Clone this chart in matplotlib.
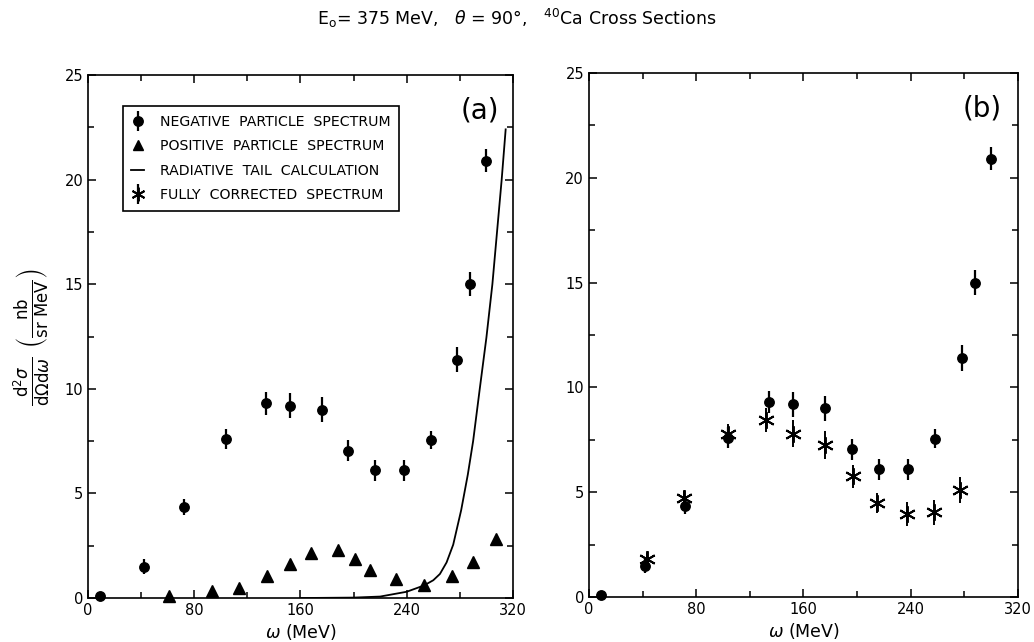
import matplotlib
matplotlib.use("Agg")
from matplotlib import pyplot as plt
from matplotlib.lines import Line2D
from matplotlib.ticker import MultipleLocator

# negative particle spectrum (circles)
neg_w = [9, 42, 72, 104, 134, 152, 176, 196, 216, 238, 258, 278, 288, 300]
neg_xs = [0.1, 1.5, 4.35, 7.6, 9.3, 9.2, 9.0, 7.05, 6.1, 6.1, 7.55, 11.4, 15.0, 20.9]
neg_err = [0.15, 0.35, 0.4, 0.5, 0.53, 0.6, 0.6, 0.5, 0.5, 0.5, 0.45, 0.6, 0.58, 0.55]

# positive particle spectrum (triangles)
pos_w = [61, 93, 114, 135, 152, 168, 188, 201, 212, 232, 253, 274, 290, 307]
pos_xs = [0.1, 0.35, 0.5, 1.05, 1.62, 2.13, 2.3, 1.85, 1.34, 0.92, 0.6, 1.07, 1.7, 2.8]

# radiative tail calculation
tail_w = [160, 200, 220, 240, 253, 260, 265, 270, 275, 281, 286, 290, 295, 300, 304.5, 308, 311.5, 314.5]
tail_xs = [0.0, 0.02, 0.07, 0.3, 0.6, 0.85, 1.15, 1.7, 2.55, 4.2, 5.9, 7.5, 10.0, 12.45, 15.0, 17.5, 20.0, 22.4]

# fully corrected spectrum (asterisks)
cor_w = [43, 71, 104, 132, 152, 176, 197, 215, 237, 257, 277]
cor_xs = [1.8, 4.7, 7.8, 8.45, 7.8, 7.25, 5.75, 4.5, 3.96, 4.05, 5.1]
cor_err = [0.3, 0.35, 0.45, 0.56, 0.64, 0.66, 0.56, 0.48, 0.58, 0.6, 0.62]

legend_labels = ["NEGATIVE  PARTICLE  SPECTRUM", "POSITIVE  PARTICLE  SPECTRUM",
                 "RADIATIVE  TAIL  CALCULATION", "FULLY  CORRECTED  SPECTRUM"]

star = (6, 2, 0)
circ_kw = dict(fmt="o", color="black", ms=6.8, elinewidth=1.6, capsize=0, clip_on=False, zorder=3)
star_kw = dict(fmt="none", ecolor="black", elinewidth=1.4, capsize=0, zorder=3)


def style_axes(ax):
    ax.set_xlim(0, 320)
    ax.set_ylim(0, 25)
    ax.xaxis.set_major_locator(MultipleLocator(80))
    ax.xaxis.set_minor_locator(MultipleLocator(40))
    ax.yaxis.set_major_locator(MultipleLocator(5))
    ax.yaxis.set_minor_locator(MultipleLocator(2.5))
    ax.tick_params(which="both", direction="in", top=True, right=True, labelsize=10.5)
    ax.tick_params(which="major", length=6, width=1.1)
    ax.tick_params(which="minor", length=4, width=1.1)
    for s in ax.spines.values():
        s.set_linewidth(1.2)
    ax.set_xlabel(r"$\omega$ (MeV)", fontsize=12.5, labelpad=3)


def main():
    fig = plt.figure(figsize=(10.34, 6.42), dpi=100)
    ax1 = fig.add_axes([0.0851, 0.0685, 0.411, 0.8147])
    ax2 = fig.add_axes([0.5696, 0.0701, 0.4149, 0.8162])

    # panel (a)
    ax1.errorbar(neg_w, neg_xs, yerr=neg_err, **circ_kw)
    ax1.plot(pos_w, pos_xs, "^", color="black", ms=8, clip_on=False, zorder=3)
    ax1.plot(tail_w, tail_xs, "-", color="black", lw=1.3)
    style_axes(ax1)
    ax1.set_ylabel(r"$\frac{\mathrm{d}^2\sigma}{\mathrm{d}\Omega \mathrm{d}\omega}\ "
                   r"\left(\frac{\mathrm{nb}}{\mathrm{sr\ MeV}}\right)$", fontsize=17)
    ax1.yaxis.set_label_coords(-0.085, 0.5)
    ax1.text(0.922, 0.933, "(a)", transform=ax1.transAxes, fontsize=20, ha="center", va="center")

    bar = dict(marker="|", color="black", lw=0, ms=15, mew=1.6)
    h_neg = (Line2D([], [], **bar), Line2D([], [], marker="o", color="black", ms=6.8, lw=0))
    h_pos = Line2D([], [], marker="^", color="black", ms=7.5, lw=0)
    h_tail = Line2D([], [], color="black", lw=1.3)
    h_cor = (Line2D([], [], **bar), Line2D([], [], marker=star, color="black", ms=10, mew=1.4, lw=0))
    leg = ax1.legend([h_neg, h_pos, h_tail, h_cor], legend_labels, loc="upper left",
                     bbox_to_anchor=(0.0816, 0.9407), borderaxespad=0, fontsize=10.2,
                     handlelength=0.9, handletextpad=1.1, labelspacing=0.75,
                     fancybox=False, edgecolor="black", framealpha=1,
                     borderpad=0.6)
    leg.get_frame().set_linewidth(1.2)

    # panel (b)
    ax2.errorbar(cor_w, cor_xs, yerr=cor_err, **star_kw)
    ax2.plot(cor_w, cor_xs, marker=star, ls="none", color="black", ms=12, mew=1.4, zorder=3)
    ax2.errorbar(neg_w, neg_xs, yerr=neg_err, **circ_kw)
    style_axes(ax2)
    ax2.text(0.916, 0.933, "(b)", transform=ax2.transAxes, fontsize=20, ha="center", va="center")

    fig.text(0.5, 0.972, r"E$_\mathrm{o}$= 375 MeV,   $\theta$ = 90°,   $^{40}$Ca Cross Sections",
             ha="center", va="center", fontsize=12.5)

    fig.savefig("out.png", dpi=100)


if __name__ == "__main__":
    main()
